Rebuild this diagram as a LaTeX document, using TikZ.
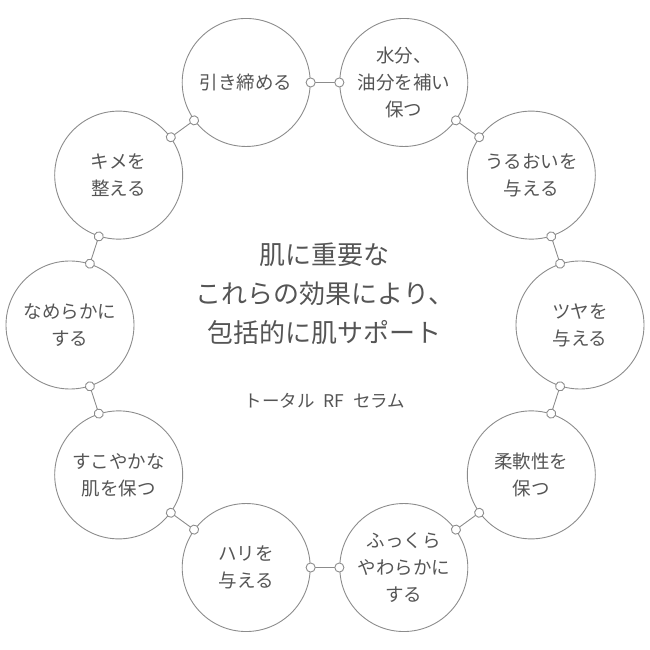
\documentclass[tikz,border=0pt]{standalone}
\usepackage{fontspec}
\setmainfont{Noto Sans CJK JP}
\usetikzlibrary{arrows.meta}
\definecolor{ringgray}{HTML}{8C8C8C}
\definecolor{textgray}{HTML}{555555}
\tikzset{
  effect/.style={circle, draw=ringgray, line width=0.9pt, minimum size=128pt, inner sep=0pt,
    align=center, text=textgray, font=\fontsize{18.5pt}{27pt}\selectfont},
  link/.style={draw=ringgray, line width=0.9pt,
    >={Circle[fill=white,length=10pt,width=10pt]}, <->, shorten <=-5pt, shorten >=-5pt}
}
\begin{document}
\begin{tikzpicture}[x=1pt, y=1pt]
             \useasboundingbox (-325,-325) rectangle (325,325);

             \node[effect] (hikishime) at (108:255) {引き締める};
             \node[effect] (suibun) at (72:255) {水分、\\油分を補い\\保つ};
             \node[effect] (uruoi) at (36:255) {うるおいを\\与える};
             \node[effect] (tsuya) at (0:255) {ツヤを\\与える};
             \node[effect] (juunan) at (-36:255) {柔軟性を\\保つ};
             \node[effect] (fukkura) at (-72:255) {ふっくら\\やわらかに\\する};
             \node[effect] (hari) at (-108:255) {ハリを\\与える};
             \node[effect] (sukoyaka) at (-144:255) {すこやかな\\肌を保つ};
             \node[effect] (nameraka) at (180:255) {なめらかに\\する};
             \node[effect] (kime) at (144:255) {キメを\\整える};

             \node[align=center, text=textgray, font=\fontsize{26pt}{39pt}\selectfont] (claim) at (0,31)
                  {肌に重要な\\これらの効果により、\\包括的に肌サポート};
             \node[text=textgray, font=\fontsize{17.5pt}{20pt}\selectfont] (serum) at (0,-76)
                  {トータル\hspace{0.5em}RF\hspace{0.5em}セラム};

             \draw [link] (hikishime) to (suibun);
             \draw [link] (suibun) to (uruoi);
             \draw [link] (uruoi) to (tsuya);
             \draw [link] (tsuya) to (juunan);
             \draw [link] (juunan) to (fukkura);
             \draw [link] (fukkura) to (hari);
             \draw [link] (hari) to (sukoyaka);
             \draw [link] (sukoyaka) to (nameraka);
             \draw [link] (nameraka) to (kime);
             \draw [link] (kime) to (hikishime);

\end{tikzpicture}
\end{document}
